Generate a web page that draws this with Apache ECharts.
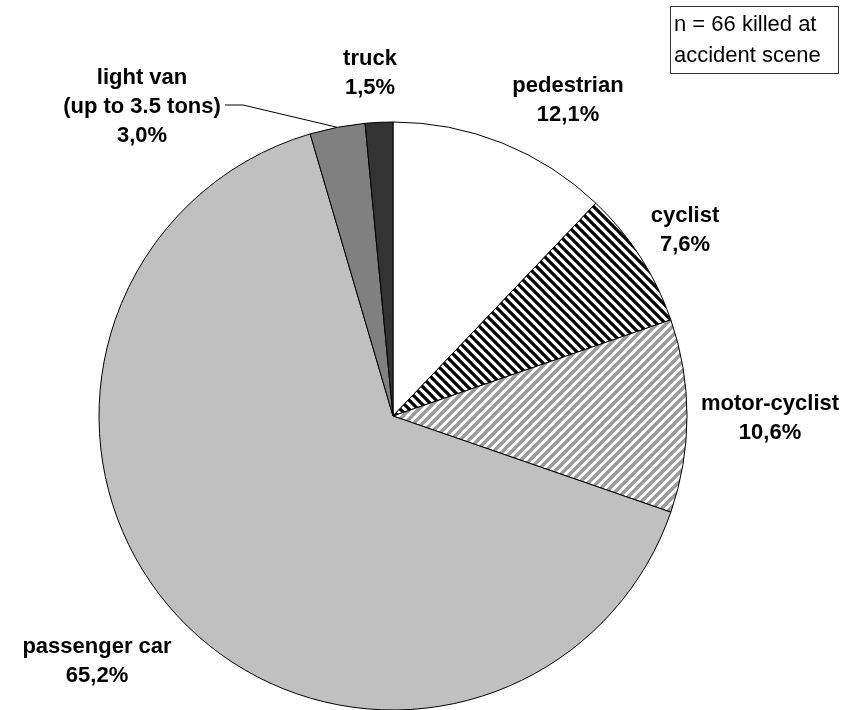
<!DOCTYPE html>
<html>
<head>
<meta charset="utf-8">
<script src="https://cdn.jsdelivr.net/npm/echarts@6/dist/echarts.min.js"></script>
<style>
html,body{margin:0;padding:0;background:#fff;}
#chart{width:852px;height:710px;}
</style>
</head>
<body>
<div id="chart"></div>
<script>
// ---- data ----
var categories = ['pedestrian', 'cyclist', 'motor-cyclist', 'passenger car', 'light van\n(up to 3.5 tons)', 'truck'];
var killedCounts = [8, 5, 7, 43, 2, 1];
var totalKilled = 66;
var noteLines = ['n = 66 killed at', 'accident scene'];

// ---- styles ----
var FONT = '"Liberation Sans", Arial, sans-serif';
var labelPos = [[568, 100], [685, 230], [770, 418], [97, 661], [142, 107], [370, 73]];

function stripeTile(size, color, width, dir) {
  var c = document.createElement('canvas');
  c.width = size; c.height = size;
  var g = c.getContext('2d');
  g.fillStyle = '#fff';
  g.fillRect(0, 0, size, size);
  g.strokeStyle = color;
  g.lineWidth = width;
  g.beginPath();
  for (var k = -1; k <= 1; k++) {
    if (dir === 'back') { // "\" direction
      g.moveTo(k * size - 1, -1);
      g.lineTo(k * size + size + 1, size + 1);
    } else { // "/" direction
      g.moveTo(k * size - 1, size + 1);
      g.lineTo(k * size + size + 1, -1);
    }
  }
  g.stroke();
  return c;
}

var fills = [
  '#ffffff',
  {image: stripeTile(9, '#000000', 3.2, 'back'), repeat: 'repeat'},
  {image: stripeTile(9, '#9a9a9a', 3.4, 'fwd'), repeat: 'repeat'},
  '#c0c0c0',
  '#808080',
  '#333333'
];

var seriesData = categories.map(function (name, i) {
  return {
    name: name,
    value: killedCounts[i],
    itemStyle: {color: fills[i]},
    labelLine: {show: i === 4}
  };
});

var chart = echarts.init(document.getElementById('chart'), null, {renderer: 'canvas'});
chart.setOption({
  backgroundColor: '#ffffff',
  animation: false,
  series: [{
    type: 'pie',
    center: [393, 416],
    radius: 294,
    startAngle: 90,
    clockwise: true,
    avoidLabelOverlap: false,
    itemStyle: {borderColor: '#000', borderWidth: 1},
    emphasis: {disabled: true},
    label: {
      show: true,
      position: 'outside',
      fontFamily: FONT,
      fontWeight: 'bold',
      fontSize: 22,
      lineHeight: 29,
      color: '#000',
      align: 'center',
      formatter: function (p) {
        var pct = (killedCounts[p.dataIndex] / totalKilled * 100).toFixed(1).replace('.', ',');
        return p.name + '\n' + pct + '%';
      }
    },
    labelLine: {
      show: false,
      lineStyle: {color: '#000', width: 1}
    },
    labelLayout: function (params) {
      var i = params.dataIndex;
      var res = {
        x: labelPos[i][0],
        y: labelPos[i][1],
        align: 'center',
        verticalAlign: 'middle'
      };
      if (i === 4 && params.labelLinePoints) {
        var edge = params.labelLinePoints[0];
        res.labelLinePoints = [edge, [243, 105], [225, 105]];
      }
      return res;
    },
    data: seriesData
  }],
  graphic: [{
    type: 'rect',
    shape: {x: 670.5, y: 6.5, width: 168, height: 67},
    style: {fill: '#fff', stroke: '#333', lineWidth: 1}
  }, {
    type: 'text',
    x: 674,
    y: 40,
    style: {
      text: noteLines.join('\n'),
      font: '22px ' + FONT,
      lineHeight: 31,
      fill: '#000',
      verticalAlign: 'middle',
      align: 'left'
    }
  }]
});
</script>
</body>
</html>
